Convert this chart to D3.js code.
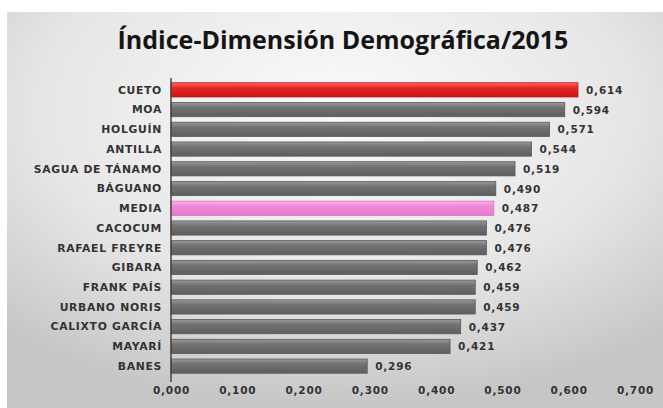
<!DOCTYPE html>
<html><head><meta charset="utf-8">
<script src="https://cdn.jsdelivr.net/npm/d3@7"></script>
<style>html,body{margin:0;padding:0;background:#fff}</style>
</head><body>
<svg id="c" width="663" height="408"></svg>
<script>
const categories = ["CUETO","MOA","HOLGUÍN","ANTILLA","SAGUA DE TÁNAMO","BÁGUANO","MEDIA","CACOCUM","RAFAEL FREYRE","GIBARA","FRANK PAÍS","URBANO NORIS","CALIXTO GARCÍA","MAYARÍ","BANES"];
const values = [0.614,0.594,0.571,0.544,0.519,0.490,0.487,0.476,0.476,0.462,0.459,0.459,0.437,0.421,0.296];
const ticks = [0,0.1,0.2,0.3,0.4,0.5,0.6,0.7];
const title = "Índice-Dimensión Demográfica/2015";

const svg = d3.select("#c");
const defs = svg.append("defs");
const bg = defs.append("radialGradient").attr("id","bg").attr("cx","50%").attr("cy","25%").attr("r","75%");
bg.append("stop").attr("offset","0%").attr("stop-color","#fbfbfb");
bg.append("stop").attr("offset","60%").attr("stop-color","#e6e6e6");
bg.append("stop").attr("offset","100%").attr("stop-color","#c6c6c6");
function grad(id, c1, c2, c3){
  const g = defs.append("linearGradient").attr("id",id).attr("x1",0).attr("y1",0).attr("x2",0).attr("y2",1);
  g.append("stop").attr("offset","0%").attr("stop-color",c1);
  g.append("stop").attr("offset","35%").attr("stop-color",c2);
  g.append("stop").attr("offset","100%").attr("stop-color",c3);
}
grad("gGray","#9a9a9a","#727272","#5e5e5e");
grad("gRed","#ff6a6a","#ea2626","#c81515");
grad("gPink","#fbb4ea","#f08ad8","#e878cc");

svg.append("rect").attr("x",7).attr("y",12).attr("width",656).attr("height",396).attr("fill","url(#bg)");

svg.append("text").attr("x",343).attr("y",49).attr("text-anchor","middle")
  .attr("font-family","'Open Sans', 'DejaVu Sans', sans-serif").attr("font-weight","700")
  .attr("font-size",25).attr("fill","#151515").text(title);

const x = d3.scaleLinear().domain([0,0.7]).range([171,635]);
const y = d3.scaleBand().domain(categories).range([80,376]).paddingInner(0.28).paddingOuter(0.14);

const fillFor = c => c==="CUETO" ? "url(#gRed)" : (c==="MEDIA" ? "url(#gPink)" : "url(#gGray)");
const strokeFor = c => c==="CUETO" ? "#c01010" : (c==="MEDIA" ? "#e070c8" : "#5a5a5a");

svg.append("g").selectAll("rect").data(categories).join("rect")
  .attr("x",x(0)).attr("y",c=>y(c)).attr("height",y.bandwidth())
  .attr("width",(c,i)=>x(values[i])-x(0))
  .attr("fill",fillFor).attr("stroke",strokeFor).attr("stroke-width",0.8);

svg.append("g").selectAll("text").data(categories).join("text")
  .attr("x",(c,i)=>x(values[i])+8).attr("y",c=>y(c)+y.bandwidth()/2+4)
  .attr("font-family","'DejaVu Sans', sans-serif").attr("font-weight","bold").attr("font-size",10.5)
  .attr("letter-spacing",0.8)
  .attr("fill","#333").text((c,i)=>d3.format(".3f")(values[i]).replace(".",","));

// category axis
const ya = svg.append("g").attr("transform","translate(171,0)")
  .call(d3.axisLeft(y).tickSize(0).tickPadding(9));
ya.select(".domain").attr("stroke","#444").attr("stroke-width",1.5).attr("d","M0,78V377");
ya.selectAll("text").attr("font-family","'DejaVu Sans', sans-serif").attr("font-weight","bold")
  .attr("font-size",10.8).attr("letter-spacing",0.7).attr("fill","#333").attr("dy","0.35em");

// value axis
const xa = svg.append("g").attr("transform","translate(0,377)")
  .call(d3.axisBottom(x).tickValues(ticks).tickSize(0).tickPadding(10).tickFormat(d=>d3.format(".3f")(d).replace(".",",")));
xa.select(".domain").remove();
xa.selectAll("text").attr("font-family","'DejaVu Sans', sans-serif").attr("font-weight","bold")
  .attr("font-size",10.5).attr("letter-spacing",0.8).attr("fill","#333");
svg.append("line").attr("x1",x(0)).attr("x2",x(0)).attr("y1",377).attr("y2",382).attr("stroke","#444").attr("stroke-width",1.5);
</script>
</body></html>
